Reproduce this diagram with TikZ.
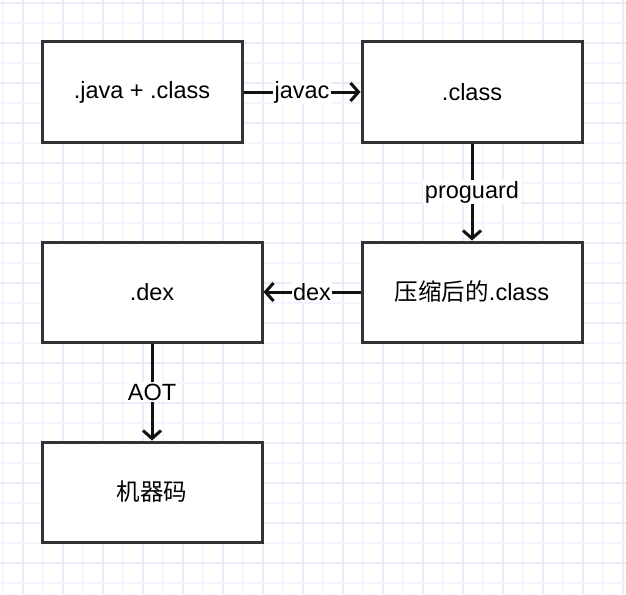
\documentclass[tikz,border=0pt]{standalone}
\usepackage{fontspec}
\setmainfont{Liberation Sans}
\newfontfamily\cjk{Noto Sans CJK SC}
\usetikzlibrary{arrows.meta}
\definecolor{gridminor}{HTML}{F5F5FF}
\definecolor{gridmajor}{HTML}{EBEBFB}
\definecolor{boxline}{HTML}{333333}
\definecolor{arrowline}{HTML}{111111}
\tikzset{
  stepbox/.style={draw=boxline, line width=3pt, fill=white, inner sep=0pt,
    font=\fontsize{23.5}{26}\selectfont},
  conn/.style={draw=arrowline, line width=3pt, -{Straight Barb[length=8pt,width=18pt,line width=3pt]}},
  lbl/.style={fill=white, inner sep=1.5pt, font=\fontsize{23.5}{26}\selectfont}
}
\begin{document}
\begin{tikzpicture}[x=1pt,y=-1pt]
\useasboundingbox (0,0) rectangle (626,594);
\fill[white] (0,0) rectangle (626,594);
% grid
\foreach \x in {3,43,...,623} \draw[gridminor, line width=1.5pt] (\x,0) -- (\x,594);
\foreach \x in {23,63,...,623} \draw[gridmajor, line width=1.5pt] (\x,0) -- (\x,594);
\foreach \y in {23,63,...,594} \draw[gridminor, line width=1.5pt] (0,\y) -- (626,\y);
\foreach \y in {3,43,...,594} \draw[gridmajor, line width=1.5pt] (0,\y) -- (626,\y);
% boxes
\node[stepbox, minimum width=200pt, minimum height=100pt] (jc) at (142,92) {.java + .class};
\node[stepbox, minimum width=220pt, minimum height=100pt] (cl) at (472,92) {.class};
\node[stepbox, minimum width=220pt, minimum height=100pt] (dx) at (152,292) {.dex};
\node[stepbox, minimum width=220pt, minimum height=100pt] (pc) at (472,292) {{\cjk 压缩后的}.class};
\node[stepbox, minimum width=220pt, minimum height=100pt] (mc) at (152,492) {{\cjk 机器码}};
% connectors
\draw[conn] (jc.east) -- node[lbl] {javac} (cl.west);
\draw[conn] (cl.south) -- node[lbl] {proguard} (pc.north);
\draw[conn] (pc.west) -- node[lbl] {dex} (dx.east);
\draw[conn] (dx.south) -- node[lbl] {AOT} (mc.north);
\end{tikzpicture}
\end{document}
